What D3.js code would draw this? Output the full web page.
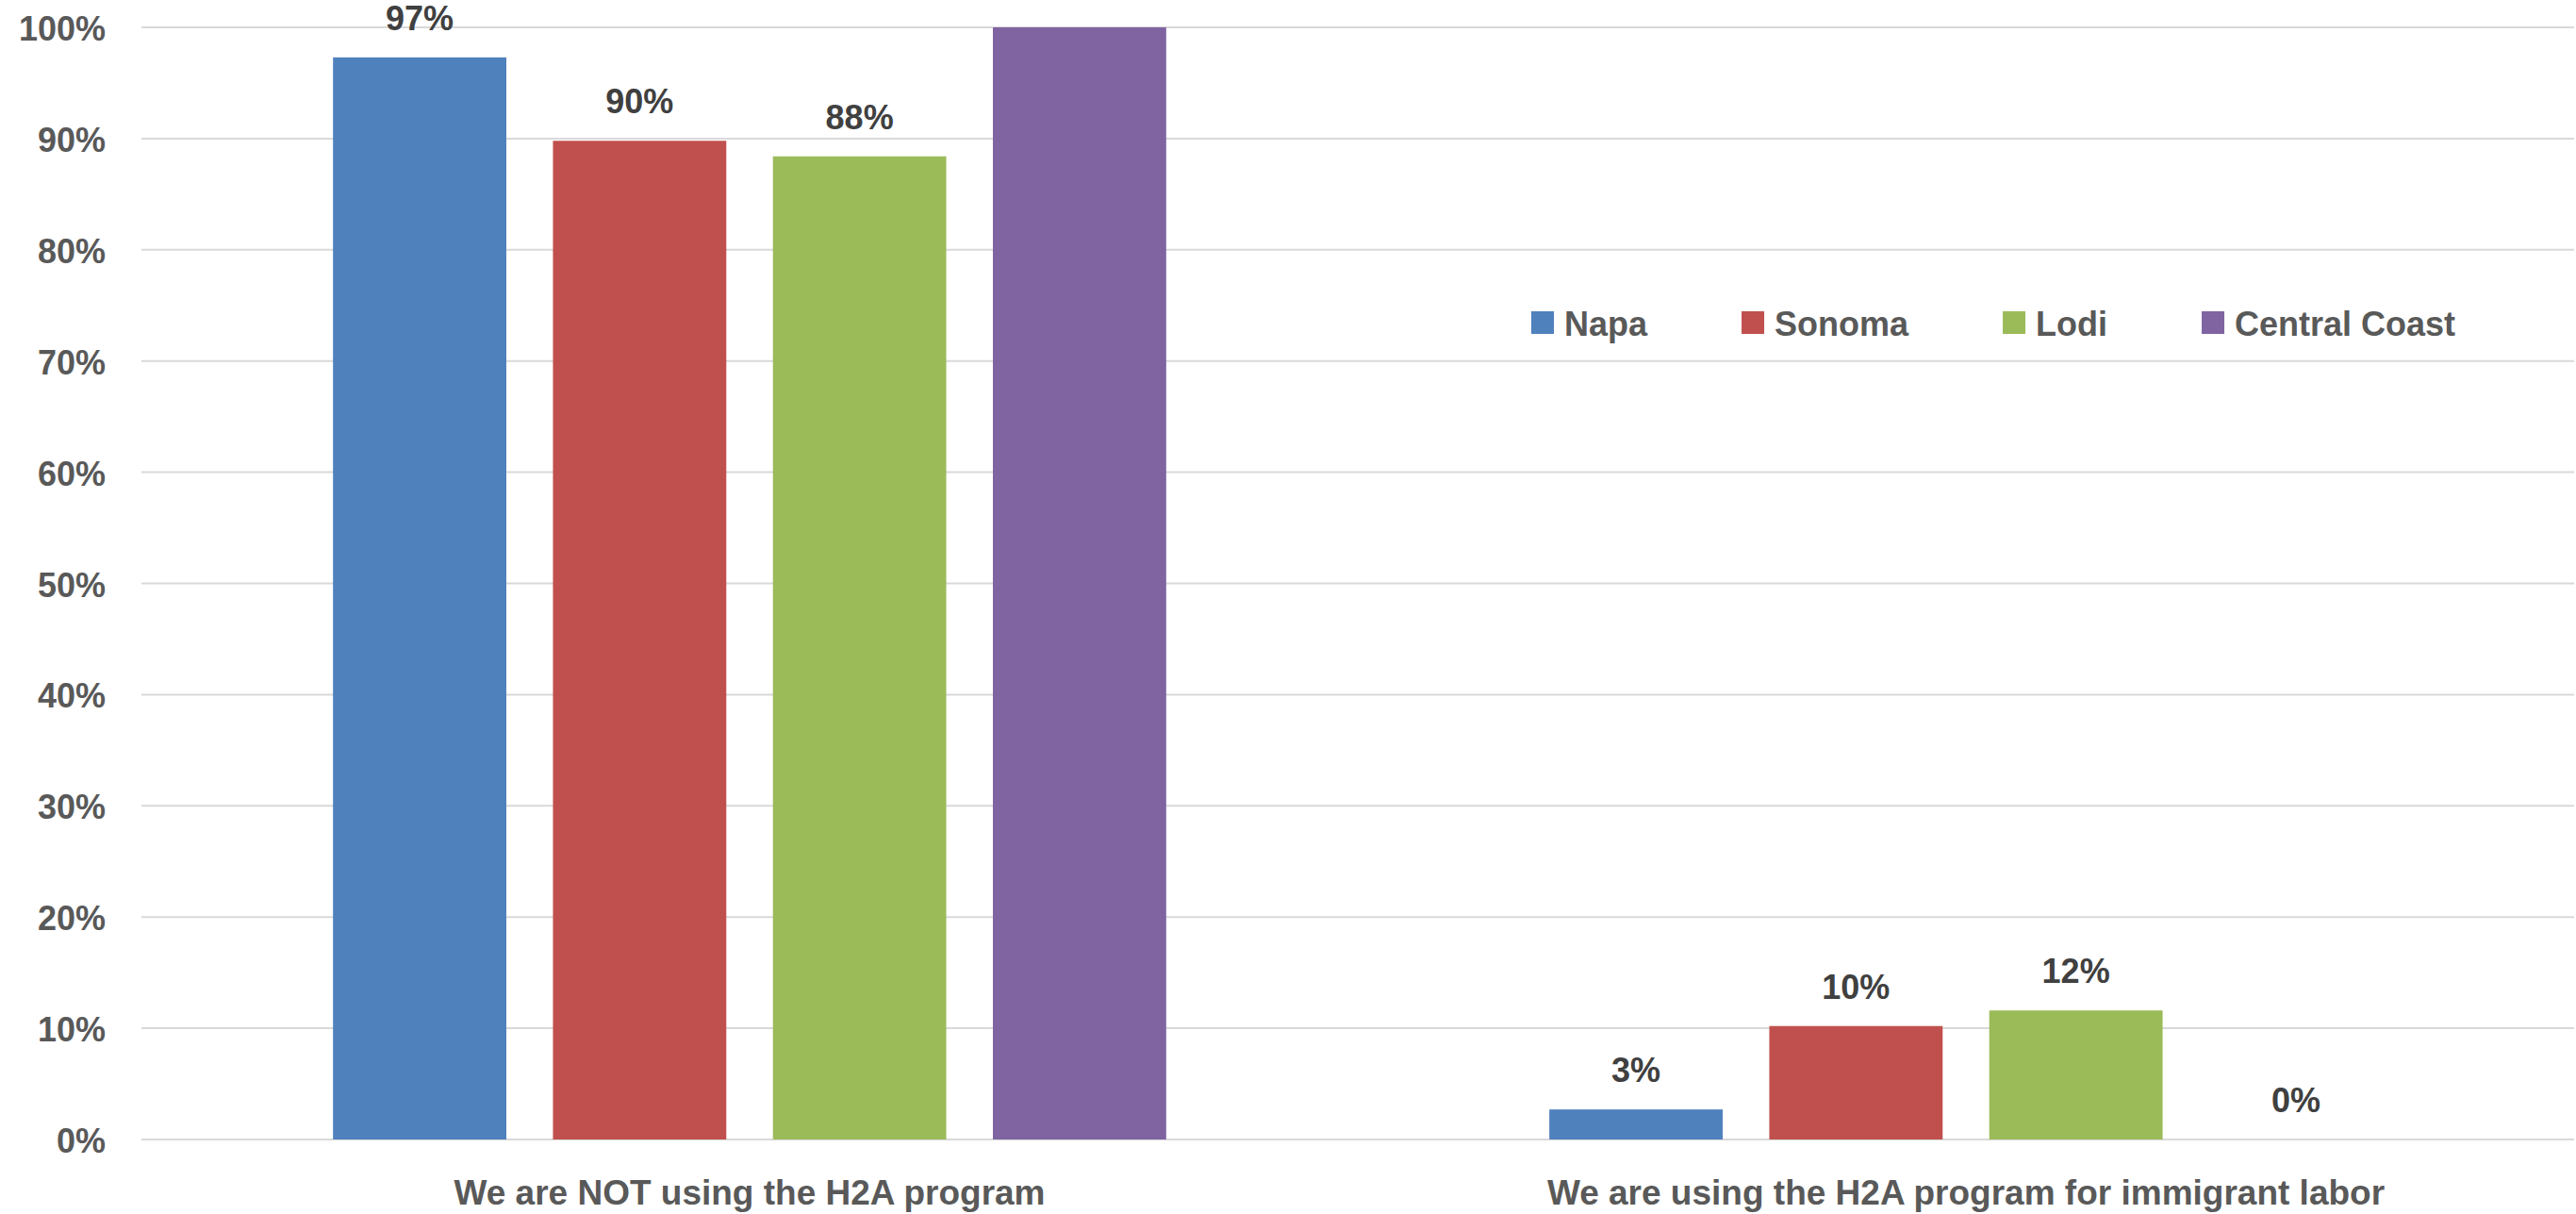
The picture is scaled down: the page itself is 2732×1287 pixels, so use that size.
<!DOCTYPE html>
<html>
<head>
<meta charset="utf-8">
<script src="https://cdn.jsdelivr.net/npm/d3@7"></script>
<style>
  html, body { margin: 0; padding: 0; background: #fff; }
  svg { display: block; font-family: "Liberation Sans", Arial, sans-serif; font-weight: bold; }
</style>
</head>
<body>
<svg width="2732" height="1287"></svg>
<script>
const categories = ["We are NOT using the H2A program", "We are using the H2A program for immigrant labor"];
const seriesNames = ["Napa", "Sonoma", "Lodi", "Central Coast"];
const seriesColors = ["#4F81BD", "#C0504D", "#9BBB59", "#8064A2"];
const napaValues = [97.3, 2.7];
const sonomaValues = [89.8, 10.2];
const lodiValues = [88.4, 11.6];
const centralCoastValues = [100, 0];
const yTicks = [0, 10, 20, 30, 40, 50, 60, 70, 80, 90, 100];

const seriesValues = [napaValues, sonomaValues, lodiValues, centralCoastValues];

const svg = d3.select("svg");
const width = 2732;
const height = 1287;
const margin = { top: 29, right: 2, bottom: 79, left: 150 };
const plotW = width - margin.left - margin.right;
const plotH = height - margin.top - margin.bottom;

const g = svg.append("g").attr("transform", `translate(${margin.left},${margin.top})`);

const x0 = d3.scaleBand()
  .domain(categories)
  .range([0, plotW])
  .paddingInner(0.315)
  .paddingOuter(0.1575);

const x1 = d3.scaleBand()
  .domain(seriesNames)
  .range([0, x0.bandwidth()])
  .paddingInner(0.212);

const y = d3.scaleLinear().domain([0, 100]).range([plotH, 0]);

// gridlines
g.append("g")
  .selectAll("line")
  .data(yTicks)
  .join("line")
  .attr("x1", 0)
  .attr("x2", plotW)
  .attr("y1", d => y(d))
  .attr("y2", d => y(d))
  .attr("stroke", "#D9D9D9")
  .attr("stroke-width", 2);

// y tick labels
g.append("g")
  .selectAll("text")
  .data(yTicks)
  .join("text")
  .attr("x", -38)
  .attr("y", d => y(d) + 14)
  .attr("text-anchor", "end")
  .attr("fill", "#595959")
  .attr("font-size", 36)
  .text(d => d + "%");

// bars
const rows = [];
seriesNames.forEach((s, i) => {
  categories.forEach((c, j) => {
    rows.push({ series: s, color: seriesColors[i], category: c, value: seriesValues[i][j] });
  });
});

g.append("g")
  .selectAll("rect")
  .data(rows)
  .join("rect")
  .attr("x", d => x0(d.category) + x1(d.series))
  .attr("y", d => y(d.value))
  .attr("width", x1.bandwidth())
  .attr("height", d => plotH - y(d.value))
  .attr("fill", d => d.color);

// data labels (the 100% one sits above the canvas in the original, so skip it)
g.append("g")
  .selectAll("text")
  .data(rows.filter(d => y(d.value) - 30 + margin.top > 30))
  .join("text")
  .attr("x", d => x0(d.category) + x1(d.series) + x1.bandwidth() / 2)
  .attr("y", d => y(d.value) - 29)
  .attr("text-anchor", "middle")
  .attr("fill", "#404040")
  .attr("font-size", 36)
  .text(d => Math.round(d.value) + "%");

// category labels
g.append("g")
  .selectAll("text")
  .data(categories)
  .join("text")
  .attr("x", d => x0(d) + x0.bandwidth() / 2)
  .attr("y", plotH + 69)
  .attr("text-anchor", "middle")
  .attr("fill", "#595959")
  .attr("font-size", 37)
  .text(d => d);

// legend
const legend = svg.append("g").attr("transform", "translate(1624,330)");
let lx = 0;
seriesNames.forEach((s, i) => {
  const item = legend.append("g").attr("transform", `translate(${lx},0)`);
  item.append("rect")
    .attr("width", 24)
    .attr("height", 24)
    .attr("fill", seriesColors[i]);
  const t = item.append("text")
    .attr("x", 35)
    .attr("y", 26)
    .attr("fill", "#595959")
    .attr("font-size", 36)
    .text(s);
  lx += 35 + t.node().getComputedTextLength() + 100;
});
</script>
</body>
</html>
